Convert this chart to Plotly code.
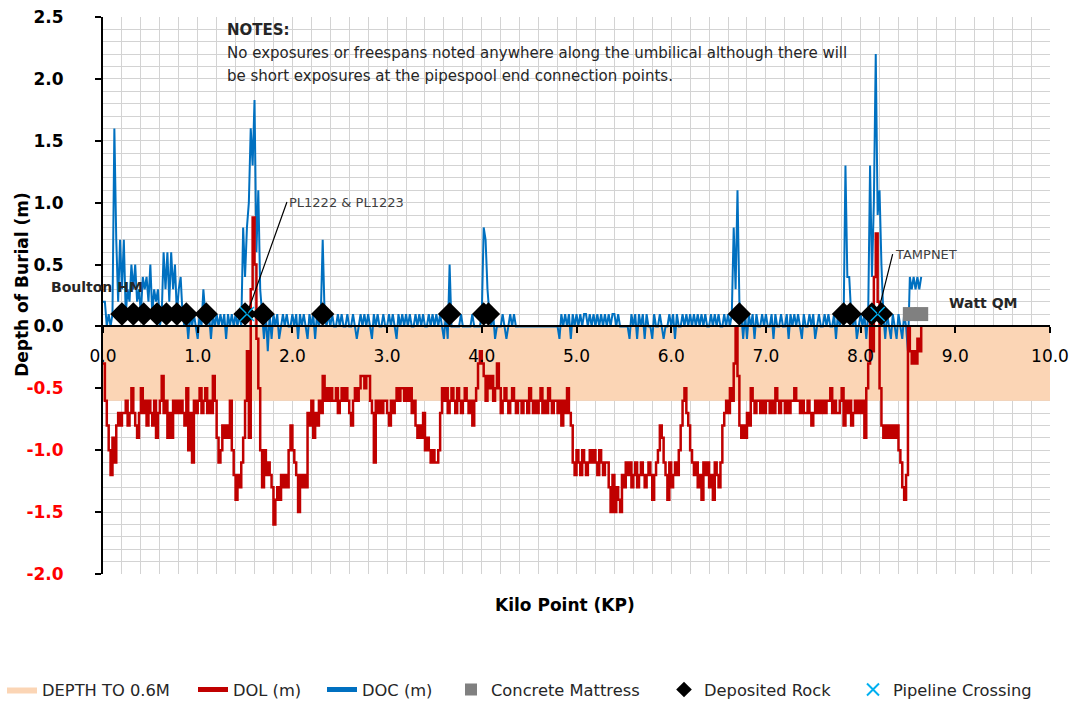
import plotly.graph_objects as go

# Survey sampling interval along the route (KP)
KP_STEP = 0.02

# Depth of lowering (top of product below mean seabed), one row per 0.2 KP
dol = [
    -0.3, -0.6, -0.8, -1.0, -1.2, -0.9, -1.1, -0.8, -0.7, -0.8,
    -0.7, -0.7, -0.6, -0.8, -0.7, -0.5, -0.7, -0.8, -0.9, -0.7,
    -0.5, -0.7, -0.6, -0.8, -0.6, -0.7, -0.8, -0.6, -0.9, -0.7,
    -0.6, -0.4, -0.7, -0.6, -0.9, -0.7, -0.9, -0.6, -0.7, -0.6,
    -0.7, -0.6, -0.7, -0.8, -0.5, -1.0, -0.7, -1.1, -0.6, -0.7,
    -0.6, -0.5, -0.7, -0.6, -0.5, -0.7, -0.6, -0.7, -0.4, -0.6,
    -0.9, -1.1, -1.0, -0.8, -0.9, -0.8, -0.9, -0.6, -1.0, -1.2,
    -1.4, -1.2, -1.3, -1.1, -0.9, -0.6, -0.2, -0.9, 0.3, 0.88,
    0.5, -0.1, -0.5, -1.0, -1.3, -1.0, -1.2, -1.1, -1.2, -1.3,
    -1.6, -1.4, -1.3, -1.4, -1.2, -1.3, -1.2, -1.3, -1.0, -0.8,
    -1.0, -1.1, -1.2, -1.5, -1.2, -1.3, -1.2, -1.3, -0.7, -0.8,
    -0.6, -0.9, -0.7, -0.8, -0.6, -0.7, -0.4, -0.6, -0.5, -0.6,
    -0.5, -0.6, -0.6, -0.5, -0.7, -0.6, -0.5, -0.6, -0.5, -0.6,
    -0.7, -0.8, -0.6, -0.5, -0.6, -0.5, -0.4, -0.4, -0.5, -0.4,
    -0.4, -0.6, -0.7, -1.1, -0.6, -0.7, -0.6, -0.7, -0.6, -0.6,
    -0.7, -0.8, -0.6, -0.7, -0.6, -0.5, -0.6, -0.5, -0.5, -0.6,
    -0.5, -0.6, -0.5, -0.7, -0.6, -0.8, -0.9, -0.8, -0.9, -0.7,
    -1.0, -0.9, -1.0, -1.1, -1.0, -1.1, -1.1, -1.0, -0.7, -0.5,
    -0.6, -0.5, -0.7, -0.6, -0.5, -0.6, -0.7, -0.5, -0.6, -0.7,
    -0.6, -0.5, -0.6, -0.7, -0.6, -0.8, -0.6, -0.5, -0.3, -0.2,
    -0.3, -0.4, -0.6, -0.4, -0.5, -0.4, -0.6, -0.5, -0.3, -0.5,
    -0.7, -0.6, -0.5, -0.6, -0.7, -0.6, -0.5, -0.6, -0.7, -0.6,
    -0.6, -0.7, -0.6, -0.6, -0.7, -0.5, -0.6, -0.7, -0.6, -0.7,
    -0.6, -0.5, -0.7, -0.6, -0.7, -0.5, -0.6, -0.7, -0.6, -0.6,
    -0.7, -0.6, -0.8, -0.6, -0.7, -0.5, -0.7, -0.8, -1.1, -1.2,
    -1.0, -1.1, -1.2, -1.0, -1.1, -1.2, -1.1, -1.0, -1.1, -1.0,
    -1.1, -1.2, -1.0, -1.1, -1.2, -1.1, -1.1, -1.3, -1.5, -1.2,
    -1.5, -1.3, -1.4, -1.5, -1.2, -1.3, -1.1, -1.2, -1.1, -1.3,
    -1.2, -1.1, -1.3, -1.2, -1.1, -1.2, -1.3, -1.2, -1.1, -1.2,
    -1.4, -1.2, -1.1, -1.0, -0.8, -0.9, -1.1, -1.2, -1.4, -1.1,
    -1.3, -1.2, -1.1, -1.2, -1.0, -0.8, -0.6, -0.5, -0.7, -0.8,
    -1.0, -1.1, -1.2, -1.1, -1.3, -1.2, -1.4, -1.1, -1.2, -1.1,
    -1.3, -1.2, -1.4, -1.1, -1.2, -1.3, -1.1, -0.8, -0.7, -0.6,
    -0.7, -0.5, -0.6, -0.3, 0.0, -0.4, -0.8, -0.9, -0.8, -0.9,
    -0.7, -0.8, -0.5, -0.6, -0.7, -0.6, -0.6, -0.7, -0.6, -0.7,
    -0.6, -0.6, -0.7, -0.6, -0.7, -0.5, -0.6, -0.7, -0.6, -0.6,
    -0.7, -0.6, -0.7, -0.6, -0.6, -0.5, -0.6, -0.6, -0.7, -0.6,
    -0.7, -0.7, -0.6, -0.7, -0.8, -0.7, -0.6, -0.7, -0.6, -0.7,
    -0.6, -0.7, -0.6, -0.6, -0.5, -0.7, -0.6, -0.7, -0.7, -0.6,
    -0.5, -0.8, -0.6, -0.7, -0.6, -0.8, -0.7, -0.6, -0.7, -0.6,
    -0.7, -0.6, -0.9, -0.5, -0.3, 0.1, -0.2, 0.4, 0.75, 0.2,
    -0.5, -0.8, -0.9, -0.8, -0.9, -0.8, -0.9, -0.8, -0.9, -0.8,
    -1.0, -1.1, -1.3, -1.4, -1.2, 0.0, -0.2, -0.3, -0.2, -0.3,
    -0.1, -0.2, 0.0,
]

# Depth of cover (seabed material above product), one row per 0.2 KP
doc = [
    0.2, 0.2, 0.0, 0.1, 0.0, 0.1, 1.6, 0.7, 0.2, 0.7,
    0.3, 0.7, 0.1, 0.3, 0.2, 0.5, 0.3, 0.5, 0.2, 0.3,
    0.1, 0.4, 0.3, 0.4, 0.2, 0.5, 0.1, 0.3, 0.2, 0.3,
    0.0, 0.1, 0.6, 0.3, 0.6, 0.2, 0.6, 0.3, 0.5, 0.1,
    0.3, 0.4, 0.1, 0.0, 0.1, -0.1, 0.1, 0.0, 0.1, 0.0,
    -0.1, 0.1, 0.0, 0.3, 0.1, 0.0, 0.1, -0.1, 0.1, 0.0,
    0.1, 0.0, 0.1, 0.0, 0.1, -0.1, 0.1, 0.0, 0.1, 0.0,
    0.1, 0.0, 0.1, 0.0, 0.8, 0.4, 0.8, 1.0, 1.6, 1.3,
    1.83, 0.6, 1.1, 0.3, 0.1, -0.1, 0.1, -0.2, 0.1, -0.1,
    0.1, 0.0, 0.1, -0.1, 0.0, 0.1, 0.0, 0.1, 0.0, 0.0,
    0.1, 0.0, 0.1, -0.1, 0.1, 0.0, 0.1, 0.0, -0.1, 0.1,
    0.0, 0.1, -0.1, 0.1, 0.0, 0.1, 0.7, 0.1, 0.0, 0.1,
    0.0, 0.1, 0.0, 0.0, 0.1, 0.0, 0.1, 0.0, 0.0, 0.1,
    0.0, 0.0, 0.1, 0.0, -0.1, 0.0, 0.1, 0.0, 0.1, 0.0,
    0.1, 0.0, -0.1, 0.1, 0.0, 0.1, 0.0, 0.0, 0.1, 0.0,
    0.0, 0.1, 0.0, 0.1, 0.0, -0.1, 0.1, 0.0, 0.1, 0.0,
    0.1, 0.0, 0.1, 0.0, 0.0, 0.1, 0.0, 0.1, 0.0, 0.1,
    0.0, 0.0, 0.1, 0.0, 0.1, 0.0, 0.1, 0.0, 0.1, 0.0,
    -0.1, 0.1, -0.1, 0.5, 0.0, 0.0, 0.0, 0.0, 0.0, 0.1,
    0.0, 0.0, 0.0, 0.0, 0.0, 0.1, 0.0, 0.0, 0.0, 0.0,
    0.1, 0.8, 0.7, 0.3, 0.1, 0.0, 0.1, -0.1, 0.0, 0.0,
    0.0, 0.1, 0.0, -0.1, 0.0, 0.1, 0.0, 0.1, 0.0, 0.0,
    0.0, 0.0, 0.0, 0.0, 0.0, 0.0, 0.0, 0.0, 0.0, 0.0,
    0.0, 0.0, 0.0, 0.0, 0.0, 0.0, 0.0, 0.0, 0.0, 0.0,
    0.0, -0.1, 0.1, 0.0, 0.1, 0.0, 0.1, -0.1, 0.1, 0.0,
    0.1, 0.0, 0.1, 0.0, 0.1, 0.1, 0.0, 0.1, 0.0, 0.1,
    0.0, 0.1, 0.0, 0.1, 0.0, 0.1, 0.0, 0.1, 0.0, 0.1,
    0.1, 0.0, 0.1, 0.0, 0.0, 0.0, 0.0, 0.0, -0.1, 0.1,
    0.0, 0.1, -0.1, 0.1, 0.0, 0.1, -0.1, 0.1, 0.0, 0.0,
    -0.1, 0.1, 0.0, 0.0, 0.1, 0.0, -0.1, 0.0, 0.0, 0.1,
    0.0, 0.1, -0.1, 0.1, 0.0, 0.0, 0.1, 0.0, 0.1, 0.0,
    0.1, 0.0, 0.1, 0.0, 0.1, 0.0, 0.1, 0.0, 0.1, 0.0,
    0.0, 0.1, 0.0, 0.1, 0.0, 0.1, 0.0, 0.0, 0.1, 0.0,
    0.1, 0.0, 0.1, 0.8, 0.3, 1.1, 0.2, 0.1, -0.1, 0.1,
    -0.1, 0.1, 0.0, 0.1, -0.1, 0.1, 0.0, 0.0, 0.1, 0.0,
    0.1, 0.0, 0.0, 0.1, -0.1, 0.1, 0.0, 0.0, 0.1, 0.0,
    0.0, 0.1, -0.1, 0.1, 0.0, 0.1, 0.0, 0.1, 0.0, -0.1,
    0.1, 0.0, 0.0, 0.1, 0.0, 0.1, -0.1, 0.0, 0.1, 0.0,
    0.0, 0.1, 0.0, 0.1, 0.0, 0.0, 0.1, -0.1, 0.1, 0.0,
    0.1, 0.0, 1.3, 0.4, 0.4, 0.1, 0.0, 0.1, -0.1, 0.0,
    0.1, 0.0, 0.1, -0.1, 0.1, 1.3, 0.4, 1.0, 2.2, 0.9,
    1.1, 0.5, 0.1, -0.1, 0.1, 0.0, -0.1, 0.1, 0.0, -0.1,
    0.1, 0.0, -0.1, 0.1, 0.0, -0.2, 0.4, 0.3, 0.4, 0.3,
    0.4, 0.3, 0.4,
]

kp = [round(i * KP_STEP, 2) for i in range(len(dol))]

# Target burial band
band_kp = [0.0, 10.0]
band_depth = [-0.6, -0.6]

# Point features along the route (plotted just above seabed)
feature_level = 0.1
rock_kp = [0.20, 0.32, 0.43, 0.57, 0.67, 0.78, 0.88, 1.09, 1.50, 1.69,
           2.32, 3.66, 4.02, 4.07, 6.72, 7.82, 7.89, 8.12, 8.22]
mattress_kp = [8.52, 8.64]
crossing_kp = [1.52, 8.18]
crossing_names = ["PL1222 & PL1223", "TAMPNET"]

# Axis ticks
x_ticks = [0, 1, 2, 3, 4, 5, 6, 7, 8, 9, 10]
y_ticks = [2.5, 2.0, 1.5, 1.0, 0.5, 0.0, -0.5, -1.0, -1.5, -2.0]

notes_lines = [
    "<b>NOTES:</b>",
    "No exposures or freespans noted anywhere along the umbilical although there will",
    "be short exposures at the pipespool end connection points.",
]

FONT = "DejaVu Sans"
RED = "#C00000"
BLUE = "#0070C0"
GRID = "#D3D3D3"


def y_label(v):
    txt = f"{v:.1f}"
    if v < 0:
        return f"<span style='color:#FF0000'>{txt}</span>"
    return txt


fig = go.Figure()

fig.add_trace(go.Scatter(
    x=band_kp, y=band_depth, name="DEPTH TO 0.6M", mode="lines",
    fill="tozeroy", fillcolor="#FBD5B5", line=dict(width=0, color="#FBD5B5"),
    legend="legend", hoverinfo="skip",
))
fig.add_trace(go.Scatter(
    x=kp, y=doc, name="DOC (m)", mode="lines",
    line=dict(color=BLUE, width=2), legend="legend3",
))
fig.add_trace(go.Scatter(
    x=kp, y=dol, name="DOL (m)", mode="lines", line_shape="hv",
    line=dict(color=RED, width=2.5), legend="legend2",
))
fig.add_trace(go.Scatter(
    x=mattress_kp, y=[feature_level] * len(mattress_kp), name="Concrete Mattress",
    mode="markers", marker=dict(symbol="square", size=14, color="#808080"),
    legend="legend4",
))
fig.add_trace(go.Scatter(
    x=rock_kp, y=[feature_level] * len(rock_kp), name="Deposited Rock",
    mode="markers", marker=dict(symbol="diamond", size=18, color="#000000"),
    legend="legend5",
))
fig.add_trace(go.Scatter(
    x=crossing_kp, y=[feature_level] * len(crossing_kp), name="Pipeline Crossing",
    mode="markers",
    marker=dict(symbol="x-thin", size=14, color="#00B0F0",
                line=dict(color="#00B0F0", width=1.5)),
    legend="legend6",
))

annotations = []
# Crossing labels with leader lines
label_offsets = [(40, -112), (15, -60)]
for cx, name, (ax, ay) in zip(crossing_kp, crossing_names, label_offsets):
    annotations.append(dict(
        x=cx, y=feature_level, xref="x", yref="y", text=name,
        showarrow=True, arrowhead=0, arrowwidth=1.2, arrowcolor="#000000",
        ax=ax, ay=ay, xanchor="left", yanchor="middle",
        font=dict(family=FONT, size=13, color="#404040"),
    ))

# Route end labels
annotations.append(dict(
    x=-0.0063, y=0.32, xref="paper", yref="y", text="<b>Boulton HM</b>",
    showarrow=False, xanchor="center", yanchor="middle",
    font=dict(family=FONT, size=14, color="#262626"),
))
annotations.append(dict(
    x=9.29, y=0.19, xref="x", yref="y", text="<b>Watt QM</b>", showarrow=False,
    xanchor="center", yanchor="middle",
    font=dict(family=FONT, size=14, color="#262626"),
))

# Notes block
for i, line in enumerate(notes_lines):
    annotations.append(dict(
        x=0.1288, y=0.9767 - i * 0.0415, xref="paper", yref="paper", text=line,
        showarrow=False, xanchor="left", yanchor="middle",
        font=dict(family=FONT, size=15, color="#262626"),
    ))

# Axis titles
annotations.append(dict(
    x=0.4877, y=-0.055, xref="paper", yref="paper", text="<b>Kilo Point (KP)</b>",
    showarrow=False, xanchor="center", yanchor="middle",
    font=dict(family=FONT, size=17, color="#000000"),
))
annotations.append(dict(
    x=-0.085, y=0.52, xref="paper", yref="paper", text="<b>Depth of Burial (m)</b>",
    showarrow=False, xanchor="center", yanchor="middle", textangle=-90,
    font=dict(family=FONT, size=17, color="#000000"),
))

# One legend per series, laid out in a row under the chart
legend_left_px = [2, 193, 322, 451, 664, 853]
legend_keys = ["legend", "legend2", "legend3", "legend4", "legend5", "legend6"]
legend_layout = {}
for key, left in zip(legend_keys, legend_left_px):
    legend_layout[key] = dict(
        orientation="h", x=(left - 103) / 947, xanchor="left",
        y=-0.208, yanchor="middle", bgcolor="rgba(0,0,0,0)",
        font=dict(family=FONT, size=16.3, color="#262626"),
        itemsizing="constant",
    )

fig.update_layout(
    width=1077, height=704,
    margin=dict(l=103, r=27, t=17, b=130, autoexpand=False),
    paper_bgcolor="white", plot_bgcolor="white",
    showlegend=True,
    annotations=annotations,
    xaxis=dict(
        range=[0, 10], tickvals=x_ticks, tickformat=".1f",
        anchor="free", position=2.0 / 4.5,
        showline=True, linecolor="#000000", linewidth=2,
        ticks="outside", ticklen=6, tickwidth=2, tickcolor="#000000",
        tickfont=dict(family=FONT, size=17, color="#000000"),
        ticklabelstandoff=8,
        showgrid=True, gridcolor=GRID, gridwidth=1,
        minor=dict(dtick=0.2, showgrid=True, gridcolor=GRID, gridwidth=1),
        zeroline=False,
    ),
    yaxis=dict(
        range=[-2.0, 2.5], tickvals=y_ticks,
        ticktext=[f"<b>{y_label(v)}</b>" for v in y_ticks],
        showline=True, linecolor="#000000", linewidth=2,
        ticks="outside", ticklen=6, tickwidth=2, tickcolor="#000000",
        tickfont=dict(family=FONT, size=17, color="#000000"),
        ticklabelstandoff=28,
        showgrid=True, gridcolor=GRID, gridwidth=1,
        minor=dict(dtick=0.1, showgrid=True, gridcolor=GRID, gridwidth=1),
        zeroline=False,
    ),
    **legend_layout,
)

fig.write_html("out.html")
